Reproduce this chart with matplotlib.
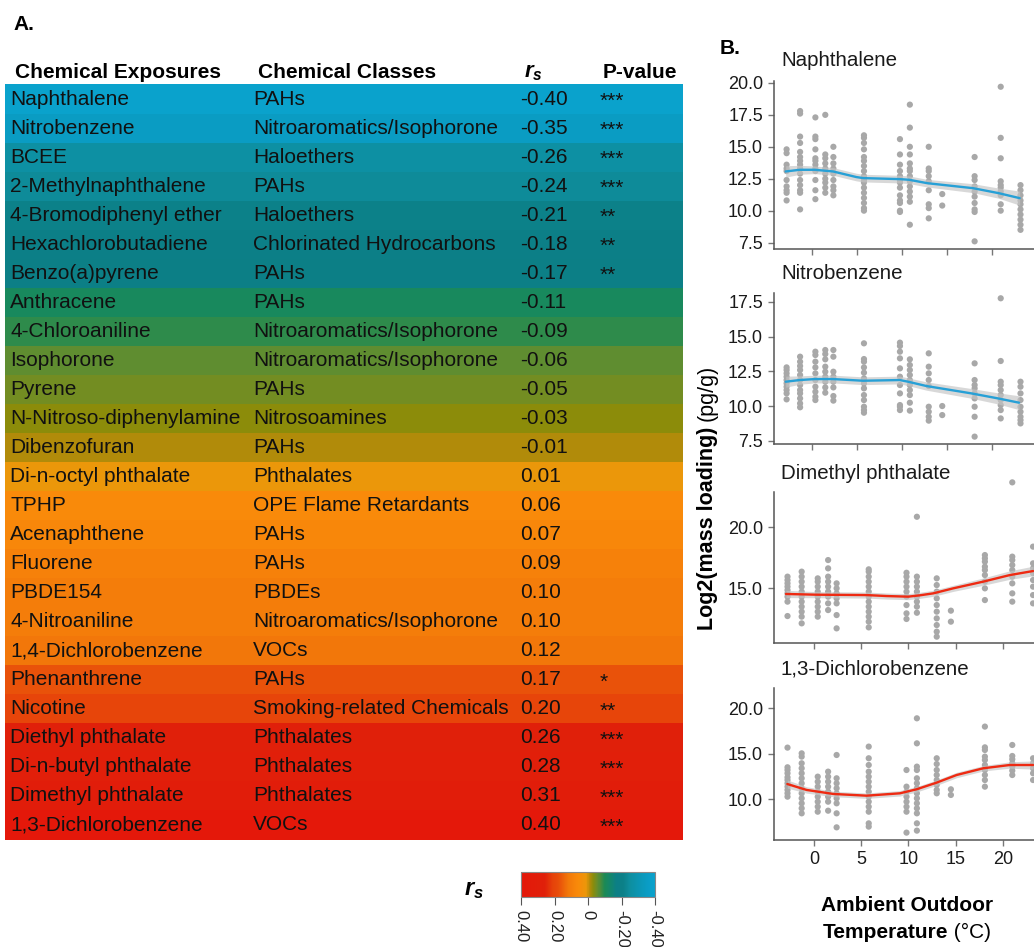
import numpy as np
import matplotlib
matplotlib.use("Agg")
import matplotlib.pyplot as plt
from matplotlib.colors import LinearSegmentedColormap, Normalize
from matplotlib.cm import ScalarMappable

plt.rcParams['font.family'] = ['Liberation Sans', 'DejaVu Sans']
plt.rcParams['mathtext.fontset'] = 'custom'
plt.rcParams['mathtext.it'] = 'Liberation Sans:italic:bold'
plt.rcParams['mathtext.rm'] = 'Liberation Sans:bold'

# ---------------- Panel A data ----------------
exposures = ["Naphthalene", "Nitrobenzene", "BCEE", "2-Methylnaphthalene",
             "4-Bromodiphenyl ether", "Hexachlorobutadiene", "Benzo(a)pyrene",
             "Anthracene", "4-Chloroaniline", "Isophorone", "Pyrene",
             "N-Nitroso-diphenylamine", "Dibenzofuran", "Di-n-octyl phthalate",
             "TPHP", "Acenaphthene", "Fluorene", "PBDE154", "4-Nitroaniline",
             "1,4-Dichlorobenzene", "Phenanthrene", "Nicotine",
             "Diethyl phthalate", "Di-n-butyl phthalate", "Dimethyl phthalate",
             "1,3-Dichlorobenzene"]
classes = ["PAHs", "Nitroaromatics/Isophorone", "Haloethers", "PAHs", "Haloethers",
           "Chlorinated Hydrocarbons", "PAHs", "PAHs", "Nitroaromatics/Isophorone",
           "Nitroaromatics/Isophorone", "PAHs", "Nitrosoamines", "PAHs", "Phthalates",
           "OPE Flame Retardants", "PAHs", "PAHs", "PBDEs", "Nitroaromatics/Isophorone",
           "VOCs", "PAHs", "Smoking-related Chemicals", "Phthalates", "Phthalates",
           "Phthalates", "VOCs"]
rs = [-0.40, -0.35, -0.26, -0.24, -0.21, -0.18, -0.17, -0.11, -0.09, -0.06, -0.05,
      -0.03, -0.01, 0.01, 0.06, 0.07, 0.09, 0.10, 0.10, 0.12, 0.17, 0.20, 0.26,
      0.28, 0.31, 0.40]
pvals = ["***", "***", "***", "***", "**", "**", "**", "", "", "", "", "", "", "",
         "", "", "", "", "", "", "*", "**", "***", "***", "***", "***"]
cbar_ticks = [0.40, 0.20, 0.0, -0.20, -0.40]
cbar_ticklabels = ["0.40", "0.20", "0", "-0.20", "-0.40"]

# ---------------- Panel B data ----------------
temps = [-2.8, -1.3, 0.4, 1.5, 2.4, 5.8, 9.8, 10.9, 13.0, 14.5, 18.1, 21.0, 23.2]

naph_vals = [
    [14.8, 14.5, 13.6, 13.3, 13.1, 12.4, 11.9, 11.6, 11.4, 10.8],
    [17.8, 17.6, 15.8, 15.3, 14.6, 14.2, 13.9, 13.6, 13.3, 12.9, 12.4, 12.0, 11.6, 11.4, 10.1],
    [17.3, 15.8, 15.6, 14.8, 14.1, 13.9, 13.6, 13.3, 13.1, 12.4, 11.6, 10.9],
    [17.5, 14.4, 14.1, 13.7, 13.3, 12.9, 12.5, 12.2, 11.8, 11.4],
    [15.0, 14.2, 13.7, 13.3, 12.9, 12.4, 11.9, 11.6, 11.2],
    [15.9, 15.7, 15.3, 14.8, 14.2, 13.9, 13.5, 13.1, 12.7, 12.4, 12.2, 11.8, 11.4, 11.0, 10.6, 10.2, 10.0],
    [15.6, 14.4, 13.6, 13.1, 12.7, 12.4, 12.2, 11.8, 11.2, 10.8, 10.6, 10.0, 9.9],
    [18.3, 16.5, 15.0, 14.4, 13.7, 13.3, 13.1, 12.7, 12.3, 11.9, 11.5, 11.1, 10.7, 8.9],
    [15.0, 13.3, 13.1, 12.7, 12.3, 11.6, 10.5, 10.2, 9.4],
    [11.3, 10.4],
    [14.2, 12.7, 12.4, 11.9, 11.5, 11.1, 10.6, 10.1, 9.9, 7.6],
    [19.7, 15.7, 14.1, 12.3, 12.0, 11.8, 11.5, 11.2, 10.5, 10.0],
    [12.0, 11.6, 11.2, 10.8, 10.5, 10.1, 9.7, 9.3, 8.9, 8.5],
]
naph_fit_x = [-2.9, -1.33, 0.33, 2.37, 4.96, 5.7, 9.78, 10.81, 12.85, 17.93, 20.78, 23.11]
naph_fit_y = [13.07, 13.20, 13.20, 13.07, 12.63, 12.55, 12.47, 12.42, 12.15, 11.76, 11.37, 10.98]
naph_fit_se = [0.45, 0.35, 0.3, 0.3, 0.3, 0.3, 0.3, 0.3, 0.3, 0.35, 0.4, 0.55]

nitro_vals = [
    [12.79, 12.60, 12.36, 12.12, 11.88, 11.64, 11.40, 11.16, 10.92, 10.49],
    [13.56, 13.20, 12.89, 12.60, 12.24, 11.88, 11.52, 11.16, 10.92, 10.56, 10.20, 9.92],
    [13.92, 13.68, 13.20, 12.79, 12.36, 11.88, 11.40, 11.04, 10.68, 10.44],
    [14.04, 13.75, 13.37, 12.84, 12.48, 12.12, 11.76, 11.35, 10.97],
    [14.04, 13.56, 12.48, 12.12, 11.76, 11.35, 10.73, 10.40],
    [14.52, 13.39, 13.20, 12.79, 12.41, 12.00, 11.64, 11.28, 10.80, 10.44, 9.96, 9.72, 9.53],
    [14.57, 14.33, 13.92, 13.44, 12.72, 12.12, 11.52, 10.92, 10.08, 9.96, 9.72],
    [13.37, 12.96, 12.60, 12.24, 11.88, 11.52, 11.16, 10.80, 10.25, 9.68],
    [13.80, 12.84, 12.36, 11.88, 11.45, 9.96, 9.60, 9.24, 8.96],
    [10.01, 9.36],
    [13.08, 11.88, 11.52, 11.28, 10.92, 10.56, 9.96, 9.24, 7.81],
    [17.76, 13.25, 11.76, 11.52, 11.16, 10.80, 10.44, 10.08, 9.72, 9.12],
    [11.76, 11.40, 10.92, 10.44, 9.96, 9.60, 9.24, 9.00, 8.76],
]
nitro_fit_x = [-2.9, -1.33, 0.33, 2.37, 5.7, 9.78, 10.7, 12.74, 17.74, 20.7, 23.04]
nitro_fit_y = [11.76, 11.88, 11.95, 11.95, 11.83, 11.88, 11.76, 11.45, 10.92, 10.56, 10.25]
nitro_fit_se = [0.4, 0.3, 0.28, 0.28, 0.28, 0.28, 0.28, 0.3, 0.35, 0.4, 0.5]

dmp_vals = [
    [15.96, 15.68, 15.41, 15.14, 14.86, 14.59, 14.32, 13.91, 12.73],
    [16.37, 15.96, 15.55, 15.14, 14.73, 14.32, 13.91, 13.50, 13.09, 12.68, 12.13],
    [15.82, 15.55, 15.14, 14.73, 14.32, 13.91, 13.50, 13.09, 12.68],
    [17.32, 16.64, 15.96, 15.55, 15.14, 14.73, 14.32, 13.77, 13.22],
    [15.41, 15.00, 14.59, 14.18, 13.77, 12.81, 11.72],
    [16.56, 16.37, 15.96, 15.55, 15.14, 14.73, 14.32, 13.91, 13.50, 13.09, 12.68, 12.27, 11.80],
    [16.28, 15.96, 15.55, 15.14, 14.73, 14.32, 13.63, 12.95, 12.49],
    [20.87, 15.96, 15.55, 15.14, 14.73, 14.32, 13.91, 13.50, 13.00],
    [15.82, 15.27, 14.73, 14.18, 13.63, 13.09, 12.54, 11.99, 11.45, 11.04],
    [13.17, 12.27],
    [17.73, 17.46, 17.19, 16.78, 16.50, 16.09, 15.55, 15.00, 14.04],
    [23.69, 17.60, 17.32, 16.91, 16.50, 15.96, 15.41, 14.59, 13.91],
    [18.42, 17.05, 16.64, 16.23, 15.68, 15.14, 14.45, 13.77],
]
dmp_fit_x = [-2.96, 0.28, 5.57, 7.69, 9.98, 11.22, 12.63, 14.74, 17.92, 20.74, 23.2]
dmp_fit_y = [14.54, 14.48, 14.45, 14.37, 14.32, 14.43, 14.59, 15.00, 15.55, 16.09, 16.42]
dmp_fit_se = [0.3, 0.25, 0.25, 0.25, 0.25, 0.25, 0.25, 0.25, 0.3, 0.35, 0.4]

dcb_vals = [
    [15.68, 13.52, 13.22, 12.86, 12.42, 12.12, 11.76, 11.39, 11.03, 10.66, 10.29],
    [15.05, 14.69, 13.96, 13.41, 12.86, 12.31, 11.76, 11.21, 10.66, 10.11, 9.56, 9.01, 8.46],
    [12.49, 11.94, 11.39, 10.84, 10.29, 9.74, 9.19, 8.64],
    [13.04, 12.49, 11.94, 11.39, 10.84, 10.29, 9.74, 8.75],
    [14.87, 12.31, 11.76, 11.21, 10.66, 10.11, 9.56, 8.46, 6.92],
    [15.79, 14.51, 13.77, 13.04, 12.49, 11.94, 11.39, 10.84, 10.29, 9.74, 9.19, 8.64, 7.36, 7.00],
    [13.22, 11.39, 10.84, 10.29, 9.74, 9.19, 8.64, 6.34],
    [18.90, 16.15, 13.59, 13.22, 12.31, 11.76, 11.21, 10.66, 10.11, 9.56, 9.01, 8.46, 7.36, 6.56],
    [14.51, 13.88, 13.22, 12.67, 12.12, 11.58, 11.03, 10.66],
    [11.10, 10.48],
    [17.99, 15.71, 15.42, 14.69, 14.32, 13.77, 13.22, 12.67, 12.12, 11.39],
    [15.97, 14.76, 14.40, 13.96, 13.59, 13.15, 12.67],
    [14.51, 13.96, 13.41, 12.86, 12.12],
]
dcb_fit_x = [-2.82, -0.78, 2.04, 5.57, 9.1, 10.86, 12.98, 15.1, 17.92, 20.74, 23.2]
dcb_fit_y = [11.68, 11.03, 10.59, 10.40, 10.66, 11.10, 11.83, 12.67, 13.41, 13.77, 13.77]
dcb_fit_se = [0.45, 0.35, 0.3, 0.3, 0.3, 0.3, 0.3, 0.3, 0.3, 0.35, 0.45]

# ---------------- figure ----------------
W, H = 1034, 947
fig = plt.figure(figsize=(W / 100, H / 100), dpi=100)


def ax_px(l, t, r, b):
    return fig.add_axes([l / W, 1 - b / H, (r - l) / W, (b - t) / H])


def fx(px):
    return px / W


def fy(py):
    return 1 - py / H


anchors = [(-0.40, "#0aa2cc"), (-0.36, "#0a9dc6"), (-0.30, "#0b95b2"),
           (-0.25, "#0e8e9e"), (-0.21, "#0c8088"), (-0.17, "#0c7f86"),
           (-0.14, "#128570"), (-0.10, "#1b8a55"), (-0.055, "#6a8d2a"),
           (-0.03, "#8c8c0a"), (-0.01, "#b38b0a"), (0.01, "#eb970a"),
           (0.06, "#f98a0a"), (0.12, "#f2780a"), (0.15, "#ec600a"),
           (0.18, "#e84c0a"), (0.21, "#e6420a"), (0.26, "#e0200a"),
           (0.40, "#e4180a")]
cmap = LinearSegmentedColormap.from_list(
    "rs", [((v + 0.4) / 0.8, c) for v, c in anchors])
norm = Normalize(-0.4, 0.4)

# Table
n = len(exposures)
tab = ax_px(5, 84.5, 683, 839.5)
tab.barh(np.arange(n), 1.0, height=1.0, left=0, color=cmap(norm(np.array(rs))))
tab.set_xlim(0, 1)
tab.set_ylim(n - 0.5, -0.5)
tab.axis("off")
fs = 15
for i in range(n):
    tab.text(0.0074, i, exposures[i], fontsize=fs, va="center", ha="left", color="#111111")
    tab.text(0.3658, i, classes[i], fontsize=fs, va="center", ha="left", color="#111111")
    tab.text(0.7596, i, f"{rs[i]:.2f}", fontsize=fs, va="center", ha="left", color="#111111")
    if pvals[i]:
        tab.text(0.8776, i + 0.08, pvals[i], fontsize=fs, va="center", ha="left", color="#111111")

hy = fy(73)
fig.text(fx(15), hy, "Chemical Exposures", fontsize=fs, fontweight="bold", va="center")
fig.text(fx(258), hy, "Chemical Classes", fontsize=fs, fontweight="bold", va="center")
fig.text(fx(524), hy, r"$r_s$", fontsize=fs + 1, va="center")
fig.text(fx(603), hy, "P-value", fontsize=fs, fontweight="bold", va="center")

fig.text(fx(13), fy(25), "A.", fontsize=15, fontweight="bold", va="center")
fig.text(fx(720), fy(48), "B.", fontsize=15, fontweight="bold", va="center")

# Colorbar
cax = ax_px(521, 872, 655, 897)
cb = fig.colorbar(ScalarMappable(norm=norm, cmap=cmap), cax=cax, orientation="horizontal")
cax.invert_xaxis()
cb.set_ticks(cbar_ticks)
cb.set_ticklabels(cbar_ticklabels)
cax.tick_params(axis="x", labelsize=12, rotation=-90, length=6, color="#555555",
                labelcolor="#222222")
for lab in cax.get_xticklabels():
    lab.set_va("top")
cb.outline.set_edgecolor("#888888")
cb.outline.set_linewidth(0.8)
fig.text(fx(474), fy(890), r"$r_s$", fontsize=17, va="center", ha="center")

# Panels B
blue = "#27a0d6"
red = "#ee2a12"
gray_pts = "#a8a8a8"
panels = [
    ("Naphthalene", naph_vals, naph_fit_x, naph_fit_y, naph_fit_se, blue,
     (774, 81, 1034, 249), (7.0, 20.15), [7.5, 10, 12.5, 15, 17.5, 20], (-4.2, 24.7), 61, False),
    ("Nitrobenzene", nitro_vals, nitro_fit_x, nitro_fit_y, nitro_fit_se, blue,
     (774, 293, 1034, 444), (7.28, 18.14), [7.5, 10, 12.5, 15, 17.5], (-4.2, 24.7), 273, False),
    ("Dimethyl phthalate", dmp_vals, dmp_fit_x, dmp_fit_y, dmp_fit_se, red,
     (774, 492, 1034, 643), (10.52, 22.9), [15, 20], (-4.23, 23.3), 473, False),
    ("1,3-Dichlorobenzene", dcb_vals, dcb_fit_x, dcb_fit_y, dcb_fit_se, red,
     (774, 688, 1034, 840), (5.53, 22.23), [10, 15, 20], (-4.23, 23.3), 669, True),
]
for (title, vals, fxs, fys, se, lc, box, ylim, yt, xlim, ty, showx) in panels:
    ax = ax_px(*box)
    xs = np.concatenate([[t] * len(v) for t, v in zip(temps, vals)])
    ys = np.concatenate(vals)
    ax.scatter(xs, ys, s=20, color=gray_pts, edgecolors="none", zorder=2, clip_on=False)
    fxa, fya, sea = np.array(fxs), np.array(fys), np.array(se)
    ax.fill_between(fxa, fya - sea, fya + sea, color="#c4c4c4", alpha=0.65, lw=0, zorder=3)
    ax.plot(fxa, fya, color=lc, lw=1.7, zorder=4, solid_capstyle="round")
    ax.set_xlim(*xlim)
    ax.set_ylim(*ylim)
    ax.set_yticks(yt)
    ax.set_yticklabels([f"{v:.1f}" for v in yt])
    ax.set_xticks([0, 5, 10, 15, 20])
    if not showx:
        ax.set_xticklabels([])
    for s in ["top", "right"]:
        ax.spines[s].set_visible(False)
    for s in ["left", "bottom"]:
        ax.spines[s].set_color("#555555")
        ax.spines[s].set_linewidth(1.1)
    ax.set_facecolor("none")
    ax.tick_params(labelsize=13, color="#777777", length=4, width=1.0,
                   labelcolor="#1a1a1a", pad=4)
    fig.text(fx(781), fy(ty), title, fontsize=14.8, va="center", ha="left", color="#1a1a1a")

# y label (bold + normal parts)
fig.canvas.draw()
r = fig.canvas.get_renderer()
yl1 = fig.text(fx(707), fy(630), "Log2(mass loading)", fontsize=15.5, fontweight="bold",
               rotation=90, ha="center", va="bottom")
bb = yl1.get_window_extent(renderer=r)
fig.text(fx(707), (bb.y1 + 6) / H, "(pg/g)", fontsize=15.5, rotation=90,
         ha="center", va="bottom")

# x label
fig.text(fx(907), fy(905), "Ambient Outdoor", fontsize=15, fontweight="bold",
         ha="center", va="center")
t1 = fig.text(0, fy(932), "Temperature", fontsize=15, fontweight="bold", ha="left", va="center")
t2 = fig.text(0, fy(932), " (°C)", fontsize=15, ha="left", va="center")
w1 = t1.get_window_extent(renderer=r).width
w2 = t2.get_window_extent(renderer=r).width
x0 = 907 - (w1 + w2) / 2
t1.set_x(x0 / W)
t2.set_x((x0 + w1) / W)

fig.savefig("out.png", dpi=100)
